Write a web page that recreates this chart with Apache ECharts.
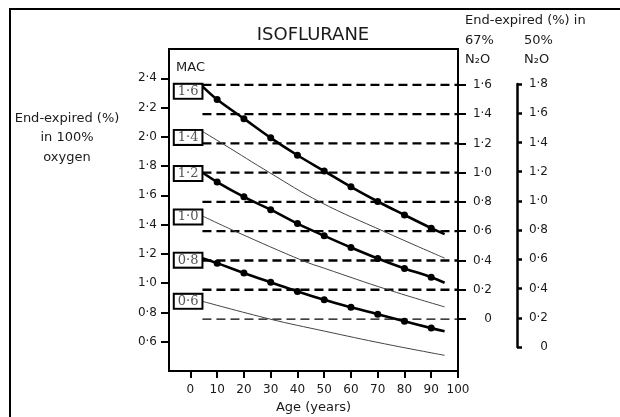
<!DOCTYPE html>
<html>
<head>
<meta charset="utf-8">
<script src="https://cdn.jsdelivr.net/npm/echarts@6/dist/echarts.min.js"></script>
<style>
  html, body { margin: 0; padding: 0; background: #fff; }
  #main { width: 620px; height: 417px; }
</style>
</head>
<body>
<div id="main"></div>
<script>
// tick values of the four scales
var ageTicks = [0, 10, 20, 30, 40, 50, 60, 70, 80, 90, 100];
var oxygenTicks = [0.6, 0.8, 1.0, 1.2, 1.4, 1.6, 1.8, 2.0, 2.2, 2.4];
var n2o67Ticks = [0, 0.2, 0.4, 0.6, 0.8, 1.0, 1.2, 1.4, 1.6];
var n2o50Ticks = [0, 0.2, 0.4, 0.6, 0.8, 1.0, 1.2, 1.4, 1.6, 1.8];

// MAC curves, [age, end-expired % in oxygen]
var mac16 = [[4.5, 2.345], [10, 2.255], [20, 2.124], [30, 1.993], [40, 1.874], [50, 1.766],
  [60, 1.658], [70, 1.558], [80, 1.466], [90, 1.376], [95, 1.335]];
var mac14 = [[4.5, 2.037], [12.4, 1.949], [29.7, 1.754], [48.3, 1.556], [72.5, 1.352], [95, 1.171]];
var mac12 = [[4.5, 1.756], [10, 1.691], [20, 1.590], [30, 1.502], [40, 1.407], [50, 1.324],
  [60, 1.244], [70, 1.169], [80, 1.101], [90, 1.041], [95, 1.003]];
var mac10 = [[4.5, 1.459], [17.3, 1.350], [42.1, 1.153], [50.2, 1.101], [73.7, 0.956], [95, 0.838]];
var mac08 = [[4.5, 1.171], [10, 1.137], [20, 1.069], [30, 1.006], [40, 0.944], [50, 0.886],
  [60, 0.835], [70, 0.788], [80, 0.740], [90, 0.693], [95, 0.671]];
var mac06 = [[4.5, 0.876], [29.7, 0.755], [50.2, 0.672], [72.5, 0.586], [95, 0.507]];

// start / end age of the dashed reference lines (67% N2O scale)
var refLineAges = [4.5, 100];

var FONT = "DejaVu Sans";
var INK = "#1a1a1a";

function fmt(v) {
  if (v === 0) return "0";
  return v.toFixed(1).replace(".", "\u00b7");
}

var myChart = echarts.init(document.getElementById("main"));

function curve(name, pts, thick, labelOffset) {
  var data = pts.map(function (p, i) {
    if (i === 0) {
      return { value: p, symbolSize: 0, label: { show: true, formatter: name, offset: [0, labelOffset] } };
    }
    if (i === pts.length - 1 || !thick) return { value: p, symbolSize: 0 };
    return p;
  });
  return {
    type: "line",
    xAxisIndex: 0,
    yAxisIndex: 0,
    data: data,
    smooth: 0.4,
    symbol: "circle",
    symbolSize: 7,
    showAllSymbol: true,
    silent: true,
    z: 5,
    itemStyle: { color: "#000" },
    lineStyle: { color: thick ? "#000" : "#444", width: thick ? 2.6 : 1 },
    label: {
      show: false,
      position: "left",
      distance: 1,
      fontFamily: "DejaVu Serif",
      fontSize: 13,
      color: "#555",
      backgroundColor: "#fff",
      borderColor: "#000",
      borderWidth: 2,
      padding: [1, 3, 0, 3],
      lineHeight: 12,
    },
  };
}

var series = [
  curve("1\u00b76", mac16, true, 5),
  curve("1\u00b74", mac14, false, 6),
  curve("1\u00b72", mac12, true, 1),
  curve("1\u00b70", mac10, false, 1),
  curve("0\u00b78", mac08, true, 2),
  curve("0\u00b76", mac06, false, 0),
];

n2o67Ticks.forEach(function (v) {
  series.push({
    type: "line",
    xAxisIndex: 0,
    yAxisIndex: 1,
    data: refLineAges.map(function (a) { return [a, v]; }),
    symbol: "none",
    silent: true,
    z: 3,
    lineStyle: { color: "#000", width: v === 0 ? 1.3 : 2.3, type: [9, 5] },
  });
});

myChart.setOption({
  animation: false,
  grid: [
    { left: 169, top: 49, right: 162, bottom: 46, show: true, borderColor: "#000", borderWidth: 2,
      outerBoundsMode: "none", containLabel: false },
    { left: 516, top: 84, width: 1, bottom: 70, outerBoundsMode: "none", containLabel: false },
  ],
  xAxis: [
    {
      gridIndex: 0,
      type: "value",
      min: -8,
      max: 100,
      name: "Age (years)",
      nameLocation: "middle",
      nameGap: 29,
      nameTextStyle: { fontFamily: FONT, fontSize: 13, color: INK },
      axisLine: { onZero: false, lineStyle: { color: "#000", width: 2 } },
      axisTick: { customValues: ageTicks, length: 7, lineStyle: { width: 2, color: "#000" } },
      axisLabel: { customValues: ageTicks, fontFamily: FONT, fontSize: 12, color: INK, margin: 13 },
      splitLine: { show: false },
    },
    { gridIndex: 1, type: "value", min: 0, max: 1, show: false },
  ],
  yAxis: [
    {
      gridIndex: 0,
      type: "value",
      position: "left",
      min: 0.4,
      max: 2.6,
      axisLine: { show: true, onZero: false, lineStyle: { color: "#000", width: 2 } },
      axisTick: { customValues: oxygenTicks, length: 8, lineStyle: { width: 2, color: "#000" } },
      axisLabel: { customValues: oxygenTicks, formatter: fmt, fontFamily: FONT, fontSize: 12, color: INK, margin: 12 },
      splitLine: { show: false },
    },
    {
      gridIndex: 0,
      type: "value",
      position: "right",
      min: -0.355,
      max: 1.845,
      axisLine: { show: true, onZero: false, lineStyle: { color: "#000", width: 2 } },
      axisTick: { customValues: n2o67Ticks, length: 8, lineStyle: { width: 2, color: "#000" } },
      axisLabel: { customValues: n2o67Ticks, formatter: fmt, align: "right", margin: 34,
        fontFamily: FONT, fontSize: 12, color: INK },
      splitLine: { show: false },
    },
    {
      gridIndex: 1,
      type: "value",
      position: "right",
      min: 0,
      max: 1.8,
      axisLine: { show: true, onZero: false, lineStyle: { color: "#000", width: 2.5 } },
      axisTick: { customValues: n2o50Ticks, length: 5, lineStyle: { width: 2.5, color: "#000" } },
      axisLabel: { customValues: n2o50Ticks, formatter: fmt, align: "right", margin: 31,
        fontFamily: FONT, fontSize: 12, color: INK },
      splitLine: { show: false },
    },
  ],
  graphic: [
    { type: "rect", shape: { x: 10, y: 9, width: 700, height: 500 }, style: { fill: null, stroke: "#000", lineWidth: 2 }, silent: true },
    { type: "text", x: 313, y: 35, style: { text: "ISOFLURANE", font: "18px " + FONT, fill: INK, textAlign: "center", textVerticalAlign: "middle" } },
    { type: "text", x: 67, y: 138, style: { text: "End-expired (%)\nin 100%\noxygen", font: "13px " + FONT, fill: INK, lineHeight: 19.5, textAlign: "center", textVerticalAlign: "middle" } },
    { type: "text", x: 176, y: 68, style: { text: "MAC", font: "13px " + FONT, fill: INK, textVerticalAlign: "middle" } },
    { type: "text", x: 465, y: 21, style: { text: "End-expired (%) in", font: "13px " + FONT, fill: INK, textVerticalAlign: "middle" } },
    { type: "text", x: 465, y: 41, style: { text: "67%", font: "13px " + FONT, fill: INK, textVerticalAlign: "middle" } },
    { type: "text", x: 524, y: 41, style: { text: "50%", font: "13px " + FONT, fill: INK, textVerticalAlign: "middle" } },
    { type: "text", x: 465, y: 60, style: { text: "N\u2082O", font: "13px " + FONT, fill: INK, textVerticalAlign: "middle" } },
    { type: "text", x: 524, y: 60, style: { text: "N\u2082O", font: "13px " + FONT, fill: INK, textVerticalAlign: "middle" } },
  ],
  series: series,
});
</script>
</body>
</html>
